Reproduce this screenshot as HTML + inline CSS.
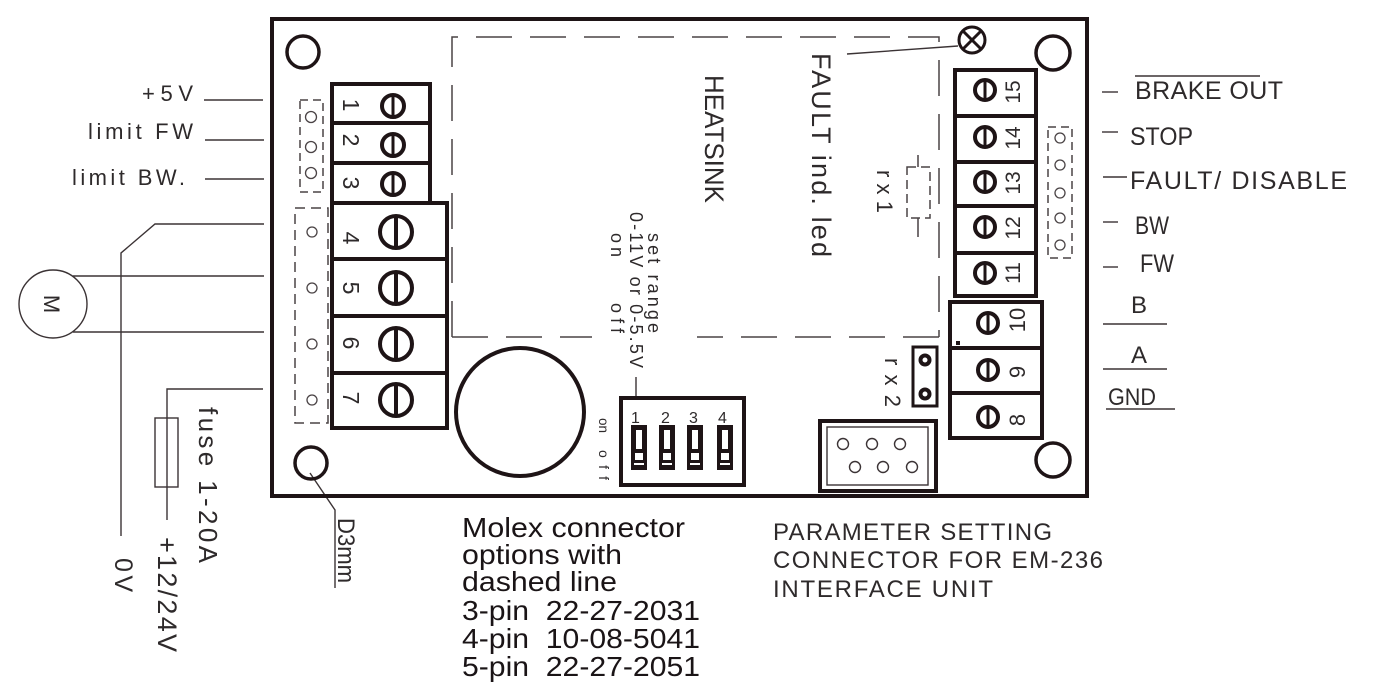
<!DOCTYPE html>
<html>
<head>
<meta charset="utf-8">
<style>
html,body{margin:0;padding:0;background:#fff;}
svg{display:block;}
.cad{font-family:"Liberation Sans Narrow","Liberation Sans",sans-serif;fill:#2e2a2b;}
.hel{font-family:"Liberation Sans",sans-serif;fill:#1a1416;}
</style>
</head>
<body>
<svg width="1374" height="689" viewBox="0 0 1374 689" xmlns="http://www.w3.org/2000/svg">
<rect width="1374" height="689" fill="#fff"/>

<!-- thin wiring -->
<g fill="none" stroke="#3b3335" stroke-width="1.4">
  <line x1="204" y1="100" x2="263" y2="100"/>
  <line x1="205" y1="140" x2="264" y2="140"/>
  <line x1="205" y1="179" x2="264" y2="179"/>
  <polyline points="264,224 155,224 121,253 121,536"/>
  <circle cx="53" cy="304" r="34"/>
  <line x1="73" y1="276" x2="264" y2="276"/>
  <line x1="73" y1="332" x2="264" y2="332"/>
  <polyline points="263,389 167,389 167,520"/>
  <rect x="155" y="418" width="23" height="69" fill="#fff"/>
  <line x1="167" y1="418" x2="167" y2="487"/>
  <polyline points="310,473 335,510 335,588"/>
  <line x1="847" y1="54" x2="958" y2="46"/>
  <line x1="918" y1="155" x2="918" y2="167"/>
  <line x1="918" y1="218" x2="918" y2="237"/>
  <line x1="636" y1="377" x2="636" y2="398"/>
  <line x1="1102" y1="92" x2="1118" y2="92"/>
  <line x1="1135" y1="76" x2="1260" y2="76"/>
  <line x1="1102" y1="132" x2="1118" y2="132"/>
  <line x1="1103" y1="177" x2="1127" y2="177"/>
  <line x1="1103" y1="222" x2="1118" y2="222"/>
  <line x1="1103" y1="267" x2="1118" y2="267"/>
  <line x1="1103" y1="324" x2="1167" y2="324"/>
  <line x1="1103" y1="369" x2="1167" y2="369"/>
  <line x1="1106" y1="409" x2="1175" y2="409"/>
  <rect x="827" y="427" width="101" height="58"/>
  <circle cx="843" cy="444" r="5.5"/>
  <circle cx="872" cy="444" r="5.5"/>
  <circle cx="900" cy="444" r="5.5"/>
  <circle cx="855" cy="467" r="5.5"/>
  <circle cx="883" cy="467" r="5.5"/>
  <circle cx="912" cy="467" r="5.5"/>
</g>

<!-- dashed outlines -->
<g fill="none" stroke="#4a4345" stroke-width="1.5">
  <polyline points="452,337 452,37 939,37 939,337" stroke-dasharray="36 18"/>
  <line x1="452" y1="337" x2="592" y2="337" stroke-dasharray="36 18"/>
  <line x1="939" y1="337" x2="697" y2="337" stroke-dasharray="36 18"/>
  <rect x="907" y="167" width="23" height="51" stroke-dasharray="9 5"/>
  <rect x="300" y="100" width="23" height="92" stroke-dasharray="8 5"/>
  <rect x="295" y="208" width="33" height="215" stroke-dasharray="10 6"/>
  <rect x="1048" y="127" width="24" height="131" stroke-dasharray="8 5"/>
  <g stroke-width="1.3">
    <circle cx="311" cy="117" r="5.5"/>
    <circle cx="311" cy="147" r="5.5"/>
    <circle cx="311" cy="173" r="5.5"/>
    <circle cx="312" cy="232" r="5"/>
    <circle cx="312" cy="288" r="5"/>
    <circle cx="312" cy="344" r="5"/>
    <circle cx="312" cy="400" r="5"/>
    <circle cx="1060" cy="138" r="5"/>
    <circle cx="1060" cy="165" r="5"/>
    <circle cx="1060" cy="193" r="5"/>
    <circle cx="1060" cy="218" r="5"/>
    <circle cx="1060" cy="245" r="5"/>
  </g>
</g>

<!-- thick outlines -->
<g fill="none" stroke="#1e1416" stroke-width="4">
  <rect x="272" y="19" width="815" height="477"/>
  <circle cx="303" cy="52" r="16" stroke-width="3.5"/>
  <circle cx="1053" cy="53" r="17" stroke-width="3.5"/>
  <circle cx="311" cy="463" r="16" stroke-width="3.5"/>
  <circle cx="1053" cy="460" r="17" stroke-width="3.5"/>
  <circle cx="520" cy="412" r="64"/>
  <circle cx="972" cy="40" r="13" stroke-width="3"/>
  <line x1="963" y1="31" x2="981" y2="49" stroke-width="3"/>
  <line x1="981" y1="31" x2="963" y2="49" stroke-width="3"/>
  <rect x="332" y="84" width="98" height="119"/>
  <line x1="332" y1="123" x2="430" y2="123"/>
  <line x1="332" y1="163" x2="430" y2="163"/>
  <rect x="332" y="203" width="115" height="225" fill="#fff"/>
  <line x1="332" y1="259" x2="447" y2="259"/>
  <line x1="332" y1="316" x2="447" y2="316"/>
  <line x1="332" y1="373" x2="447" y2="373"/>
  <circle cx="393" cy="106" r="11"/><line x1="393" y1="95" x2="393" y2="117" stroke-width="3"/>
  <circle cx="393" cy="145" r="11"/><line x1="393" y1="134" x2="393" y2="156" stroke-width="3"/>
  <circle cx="393" cy="184" r="11"/><line x1="393" y1="173" x2="393" y2="195" stroke-width="3"/>
  <circle cx="396" cy="232" r="16"/><line x1="396" y1="216" x2="396" y2="248"/>
  <circle cx="396" cy="288" r="16"/><line x1="396" y1="272" x2="396" y2="304"/>
  <circle cx="396" cy="344" r="16"/><line x1="396" y1="328" x2="396" y2="360"/>
  <circle cx="396" cy="400" r="16"/><line x1="396" y1="384" x2="396" y2="416"/>
  <rect x="955" y="70" width="81" height="226"/>
  <line x1="955" y1="116" x2="1036" y2="116"/>
  <line x1="955" y1="162" x2="1036" y2="162"/>
  <line x1="955" y1="206" x2="1036" y2="206"/>
  <line x1="955" y1="253" x2="1036" y2="253"/>
  <circle cx="985" cy="90" r="10"/><line x1="985" y1="80" x2="985" y2="100" stroke-width="3"/>
  <circle cx="985" cy="137" r="10"/><line x1="985" y1="127" x2="985" y2="147" stroke-width="3"/>
  <circle cx="985" cy="182" r="10"/><line x1="985" y1="172" x2="985" y2="192" stroke-width="3"/>
  <circle cx="985" cy="227" r="10"/><line x1="985" y1="217" x2="985" y2="237" stroke-width="3"/>
  <circle cx="985" cy="273" r="10"/><line x1="985" y1="263" x2="985" y2="283" stroke-width="3"/>
  <rect x="950" y="302" width="92" height="136"/>
  <line x1="950" y1="348" x2="1042" y2="348"/>
  <line x1="950" y1="393" x2="1042" y2="393"/>
  <circle cx="988" cy="323" r="10"/><line x1="988" y1="313" x2="988" y2="333" stroke-width="3"/>
  <circle cx="988" cy="370" r="10"/><line x1="988" y1="360" x2="988" y2="380" stroke-width="3"/>
  <circle cx="988" cy="417" r="10"/><line x1="988" y1="407" x2="988" y2="427" stroke-width="3"/>
  <rect x="913" y="347" width="24" height="59" stroke-width="3"/>
  <circle cx="925" cy="360" r="4.5" stroke-width="4"/>
  <circle cx="925" cy="394" r="4.5" stroke-width="4"/>
  <rect x="820" y="421" width="116" height="70"/>
  <rect x="621" y="398" width="123" height="87"/>
</g>
<rect x="956" y="341" width="4" height="4" fill="#1e1416"/>

<!-- DIP switches -->
<g>
  <g transform="translate(631,0)">
    <rect x="0" y="425" width="16" height="45" fill="#1e1416"/>
    <rect x="5" y="430" width="6" height="19" fill="#fff"/>
    <rect x="4" y="453" width="8" height="7" fill="#fff"/>
    <rect x="3" y="463" width="10" height="2" fill="#fff"/>
  </g>
  <g transform="translate(659,0)">
    <rect x="0" y="425" width="16" height="45" fill="#1e1416"/>
    <rect x="5" y="430" width="6" height="19" fill="#fff"/>
    <rect x="4" y="453" width="8" height="7" fill="#fff"/>
    <rect x="3" y="463" width="10" height="2" fill="#fff"/>
  </g>
  <g transform="translate(687,0)">
    <rect x="0" y="425" width="16" height="45" fill="#1e1416"/>
    <rect x="5" y="430" width="6" height="19" fill="#fff"/>
    <rect x="4" y="453" width="8" height="7" fill="#fff"/>
    <rect x="3" y="463" width="10" height="2" fill="#fff"/>
  </g>
  <g transform="translate(717,0)">
    <rect x="0" y="425" width="16" height="45" fill="#1e1416"/>
    <rect x="5" y="430" width="6" height="19" fill="#fff"/>
    <rect x="4" y="453" width="8" height="7" fill="#fff"/>
    <rect x="3" y="463" width="10" height="2" fill="#fff"/>
  </g>
</g>

<!-- CAD texts horizontal -->
<g class="cad">
  <text x="142" y="101" font-size="22" textLength="51" lengthAdjust="spacing">+5V</text>
  <text x="88" y="139" font-size="22" textLength="105" lengthAdjust="spacing">limit FW</text>
  <text x="72" y="185" font-size="22" textLength="113" lengthAdjust="spacing">limit BW.</text>

  <text x="1135" y="99" font-size="25" textLength="148" lengthAdjust="spacing">BRAKE OUT</text>
  <text x="1130" y="145" font-size="25" textLength="63" lengthAdjust="spacingAndGlyphs">STOP</text>
  <text x="1130" y="189" font-size="25" textLength="217" lengthAdjust="spacing">FAULT/ DISABLE</text>
  <text x="1135" y="234" font-size="25" textLength="34" lengthAdjust="spacingAndGlyphs">BW</text>
  <text x="1140" y="272" font-size="25" textLength="34" lengthAdjust="spacingAndGlyphs">FW</text>
  <text x="1131" y="313" font-size="24">B</text>
  <text x="1131" y="363" font-size="24">A</text>
  <text x="1108" y="405" font-size="24" textLength="48" lengthAdjust="spacingAndGlyphs">GND</text>

  <text x="773" y="540" font-size="24" textLength="279" lengthAdjust="spacing">PARAMETER SETTING</text>
  <text x="773" y="568" font-size="24" textLength="330" lengthAdjust="spacing">CONNECTOR FOR EM-236</text>
  <text x="773" y="597" font-size="24" textLength="220" lengthAdjust="spacing">INTERFACE UNIT</text>

  <text x="631" y="423" font-size="16">1</text>
  <text x="661" y="423" font-size="16">2</text>
  <text x="689" y="423" font-size="16">3</text>
  <text x="718" y="423" font-size="16">4</text>
</g>

<!-- CAD texts rotated clockwise -->
<g class="cad">
  <text transform="translate(343,105) rotate(90)" font-size="23" text-anchor="middle">1</text>
  <text transform="translate(343,140) rotate(90)" font-size="23" text-anchor="middle">2</text>
  <text transform="translate(343,183) rotate(90)" font-size="23" text-anchor="middle">3</text>
  <text transform="translate(343,238) rotate(90)" font-size="23" text-anchor="middle">4</text>
  <text transform="translate(343,288) rotate(90)" font-size="23" text-anchor="middle">5</text>
  <text transform="translate(343,343) rotate(90)" font-size="23" text-anchor="middle">6</text>
  <text transform="translate(343,398) rotate(90)" font-size="23" text-anchor="middle">7</text>

  <text transform="translate(44,304) rotate(90)" font-size="22" text-anchor="middle">M</text>

  <text transform="translate(705,75) rotate(90)" font-size="27" textLength="128" lengthAdjust="spacingAndGlyphs">HEATSINK</text>
  <text transform="translate(812,53) rotate(90)" font-size="27" textLength="204" lengthAdjust="spacing">FAULT ind. led</text>
  <text transform="translate(877,170) rotate(90)" font-size="22" textLength="43" lengthAdjust="spacing">rx1</text>
  <text transform="translate(648,233) rotate(90)" font-size="18" textLength="100" lengthAdjust="spacing">set range</text>
  <text transform="translate(630,212) rotate(90)" font-size="18" textLength="156" lengthAdjust="spacing">0-11V or 0-5.5V</text>
  <text transform="translate(611,233) rotate(90)" font-size="18" textLength="24" lengthAdjust="spacing">on</text>
  <text transform="translate(611,303) rotate(90)" font-size="18" textLength="30" lengthAdjust="spacing">off</text>
  <text transform="translate(885,358) rotate(90)" font-size="22" textLength="49" lengthAdjust="spacing">rx2</text>
  <text transform="translate(599,418) rotate(90)" font-size="14" textLength="15" lengthAdjust="spacingAndGlyphs">on</text>
  <text transform="translate(599,450) rotate(90)" font-size="14" textLength="30" lengthAdjust="spacing">off</text>

  <text transform="translate(199,407) rotate(90)" font-size="26" textLength="156" lengthAdjust="spacing">fuse 1-20A</text>
  <text transform="translate(158,537) rotate(90)" font-size="27" textLength="115" lengthAdjust="spacing">+12/24V</text>
  <text transform="translate(115,558) rotate(90)" font-size="25" textLength="34" lengthAdjust="spacing">0V</text>
  <text transform="translate(338,518) rotate(90)" font-size="24" textLength="65" lengthAdjust="spacingAndGlyphs">D3mm</text>
</g>

<!-- CAD texts rotated counter-clockwise -->
<g class="cad">
  <text transform="translate(1020,92) rotate(-90)" font-size="21" text-anchor="middle">15</text>
  <text transform="translate(1020,138) rotate(-90)" font-size="21" text-anchor="middle">14</text>
  <text transform="translate(1020,183) rotate(-90)" font-size="21" text-anchor="middle">13</text>
  <text transform="translate(1020,228) rotate(-90)" font-size="21" text-anchor="middle">12</text>
  <text transform="translate(1020,273) rotate(-90)" font-size="21" text-anchor="middle">11</text>
  <text transform="translate(1025,320) rotate(-90)" font-size="22" text-anchor="middle">10</text>
  <text transform="translate(1025,372) rotate(-90)" font-size="22" text-anchor="middle">9</text>
  <text transform="translate(1025,420) rotate(-90)" font-size="22" text-anchor="middle">8</text>
</g>

<!-- Molex text -->
<g class="hel" font-size="28">
  <text x="462" y="537" textLength="223" lengthAdjust="spacingAndGlyphs">Molex connector</text>
  <text x="462" y="564" textLength="160" lengthAdjust="spacingAndGlyphs">options with</text>
  <text x="462" y="591" textLength="155" lengthAdjust="spacingAndGlyphs">dashed line</text>
  <text x="462" y="620" textLength="238" lengthAdjust="spacingAndGlyphs">3-pin&#160;&#160;22-27-2031</text>
  <text x="462" y="648" textLength="238" lengthAdjust="spacingAndGlyphs">4-pin&#160;&#160;10-08-5041</text>
  <text x="462" y="676" textLength="238" lengthAdjust="spacingAndGlyphs">5-pin&#160;&#160;22-27-2051</text>
</g>
</svg>
</body>
</html>
